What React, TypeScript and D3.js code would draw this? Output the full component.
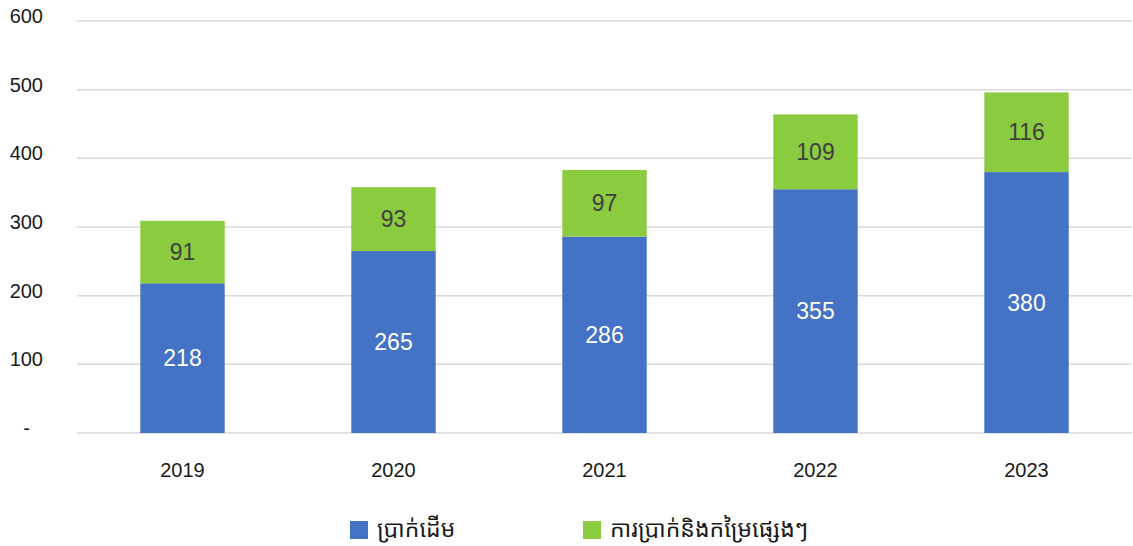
import React from "react";
import * as d3 from "d3";

const years = ["2019", "2020", "2021", "2022", "2023"];
const principal = [218, 265, 286, 355, 380];
const interest = [91, 93, 97, 109, 116];
const yTicks = [0, 100, 200, 300, 400, 500, 600];
const seriesNames = ["ប្រាក់ដើម", "ការប្រាក់និងកម្រៃផ្សេងៗ"];
const colors = ["#4472C4", "#8BCB40"];

const W = 1133;
const H = 546;
const FONT = "'Liberation Sans', Arial, Helvetica, sans-serif";
const KFONT = "'Khmer OS', 'Noto Sans Khmer', 'Noto Sans', sans-serif";

export default function App() {
  const x = d3.scaleBand<string>().domain(years).range([77, 1132]).paddingInner(0.6).paddingOuter(0.3);
  const y = d3.scaleLinear().domain([0, 600]).range([433, 21]);

  return (
    <svg width={W} height={H} style={{ position: "absolute", left: 0, top: 0, background: "#fff" }}>
      {yTicks.map((t) => (
        <g key={t}>
          <line x1={77} x2={1132} y1={y(t)} y2={y(t)} stroke="#D9D9D9" strokeWidth={1.5} />
          <text
            x={t === 0 ? 30 : 43}
            y={y(t) - 5}
            textAnchor="end"
            dominantBaseline="central"
            fontFamily={FONT}
            fontSize={20}
            fill="#1a1a1a"
          >
            {t === 0 ? "-" : t}
          </text>
        </g>
      ))}
      {years.map((yr, i) => {
        const bx = x(yr)!;
        const bw = x.bandwidth();
        const p = principal[i];
        const q = interest[i];
        return (
          <g key={yr}>
            <rect x={bx} width={bw} y={y(p)} height={y(0) - y(p)} fill={colors[0]} />
            <rect x={bx} width={bw} y={y(p + q)} height={y(p) - y(p + q)} fill={colors[1]} />
            <text
              x={bx + bw / 2}
              y={y(p / 2)}
              textAnchor="middle"
              dominantBaseline="central"
              fontFamily={FONT}
              fontSize={23}
              fill="#ffffff"
            >
              {p}
            </text>
            <text
              x={bx + bw / 2}
              y={y(p + q / 2)}
              textAnchor="middle"
              dominantBaseline="central"
              fontFamily={FONT}
              fontSize={23}
              fill="#404040"
            >
              {q}
            </text>
            <text
              x={bx + bw / 2}
              y={470}
              textAnchor="middle"
              dominantBaseline="central"
              fontFamily={FONT}
              fontSize={20}
              fill="#1a1a1a"
            >
              {yr}
            </text>
          </g>
        );
      })}
      {seriesNames.map((name, i) => {
        const lx = i === 0 ? 350 : 583;
        return (
          <g key={name}>
            <rect x={lx} y={521} width={18} height={18} fill={colors[i]} />
            <text x={lx + 27} y={528} dominantBaseline="central" fontFamily={KFONT} fontSize={23} fill="#1a1a1a">
              {name}
            </text>
          </g>
        );
      })}
    </svg>
  );
}
